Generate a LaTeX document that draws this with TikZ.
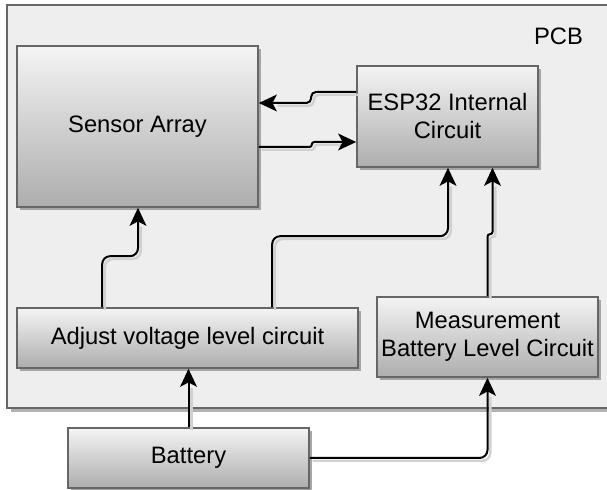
\documentclass[tikz,border=0pt]{standalone}
\usepackage{fontspec}
\setmainfont{Liberation Sans}
\usepackage{tikz}
\usetikzlibrary{calc}
\usetikzlibrary{arrows.meta}
\usetikzlibrary{shadows}
\usepackage{xcolor}

\definecolor{pcbfill}{HTML}{EEEEEE}
\definecolor{boxedge}{HTML}{666666}
\definecolor{boxtop}{HTML}{F4F4F4}
\definecolor{boxbottom}{HTML}{ADADAD}

\tikzset{
    pcbbox/.style={draw=boxedge, line width=0.04cm, fill=pcbfill, inner sep=0pt,
        drop shadow={shadow xshift=0.09cm, shadow yshift=-0.09cm, fill=black!30, opacity=1}},
    block/.style={draw=boxedge, line width=0.04cm, top color=boxtop, bottom color=boxbottom,
        align=center, inner sep=0pt,
        drop shadow={shadow xshift=0.08cm, shadow yshift=-0.08cm, fill=black!35, opacity=1}},
    flow/.style={-{Stealth[length=0.45cm, width=0.42cm, inset=0.11cm]}, line width=0.05cm,
        rounded corners=0.2cm,
        preaction={draw=black!18, arrows=-, shorten >=0.4cm, line width=0.06cm,
            transform canvas={xshift=0.07cm, yshift=-0.07cm}}}
}

\begin{document}
\begin{tikzpicture}[x=0.025cm, y=-0.025cm, font=\fontsize{16.9}{19.9}\selectfont]
    \useasboundingbox (0,0) rectangle (607,490);

    % 1. Draw the PCB area and its label
    \node[pcbbox, minimum width=15.25cm, minimum height=10.075cm] (pcb) at (312,206.5) {};
    \node (pcblabel) at (558.5,36.5) {PCB};

    % 2. Draw the blocks on the board
    \node[block, minimum width=6.025cm, minimum height=4.025cm] (sensor) at (137.5,126.5) {Sensor Array};
    \node[block, minimum width=4.525cm, minimum height=2.525cm] (esp) at (447.5,116.5) {ESP32 Internal\\Circuit};
    \node[block, minimum width=8.525cm, minimum height=1.5cm] (adjust) at (187.5,338) {Adjust voltage level circuit};
    \node[block, minimum width=5.525cm, minimum height=2cm] (meas) at (487.5,337) {Measurement\\Battery Level Circuit};

    % 3. Draw the battery outside the board
    \node[block, minimum width=6.025cm, minimum height=1.5cm] (battery) at (188.5,458) {Battery};

    % 4. Connect ESP32 and the sensor array both ways
    \draw[flow, rounded corners=0.12cm] ($(esp.west)+(0,-24.5)$) -- ++(-45,0) -- ++(0,11) -- ($(sensor.east)+(0,-23.5)$);
    \draw[flow, rounded corners=0.06cm] ($(sensor.east)+(0,20.5)$) -- ++(53,0) -- ++(0,-5) -- ($(esp.west)+(0,25.5)$);

    % 5. Supply lines from the voltage level circuit
    \draw[flow] ($(adjust.north west)+(86,0)$) -- ++(0,-51) -| ($(sensor.south)+(0.5,0)$);
    \draw[flow] ($(adjust.north west)+(256,0)$) -- ++(0,-71) -| ($(esp.south)+(0.5,0)$);

    % 6. Battery level measurement into ESP32
    \draw[flow, rounded corners=0.06cm] (meas.north) -- ++(0,-62) -- ++(5,0) -- ($(esp.south)+(45,0)$);

    % 7. Battery feeds both circuits
    \draw[flow] (battery.north) -- (battery.north |- adjust.south);
    \draw[flow] (battery.east) -| (meas.south);
\end{tikzpicture}
\end{document}
